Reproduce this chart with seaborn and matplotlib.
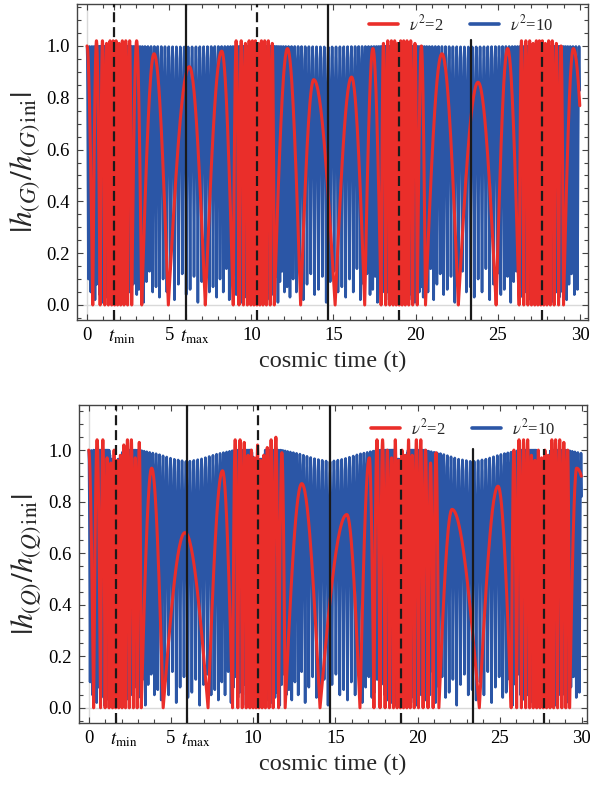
import numpy as np
import pandas as pd
import matplotlib
matplotlib.use("Agg")
import matplotlib.pyplot as plt
import matplotlib.transforms as mtransforms
from matplotlib.ticker import FixedLocator, MultipleLocator
import seaborn as sns

sns.set_theme(style="ticks")
plt.rcParams["font.family"] = ["Liberation Serif", "DejaVu Serif"]
plt.rcParams["mathtext.fontset"] = "stix"

RED = "#EA2E2A"
BLUE = "#2B56A6"

# ---------------- data ----------------
T_MIN = [1.66, 10.32, 18.99, 27.67]
T_MAX = [6.0, 14.67, 23.35]
x_ticks = [0, 1.66, 5, 6.0, 10, 15, 20, 25, 30]
x_ticklabels = ["0", r"$t_{\rm min}$", "5", r"$t_{\rm max}$", "10", "15", "20", "25", "30"]

# red (nu^2 = 2), top panel: arc nodes (zeros), peak times (nan = middle), peak values
red_top_nodes = [-0.35, 0.35, 0.8, 1.08, 1.3, 1.5, 1.68, 1.86, 2.05, 2.25, 2.47, 2.72,
                 3.33, 4.95, 7.2,
                 8.9, 9.25, 9.52, 9.76, 9.97, 10.16, 10.34, 10.52, 10.71, 10.92, 11.15,
                 11.4, 13.0, 15.1, 16.9,
                 17.9, 18.18, 18.42, 18.63, 18.82, 19.0, 19.18, 19.37, 19.58, 19.82, 20.1,
                 20.6, 22.6, 24.9,
                 26.3, 26.58, 26.83, 27.05, 27.25, 27.44, 27.62, 27.8, 27.99, 28.2, 28.43, 28.7,
                 29.0, 30.5]
red_top_peak_t = [0.0] + [np.nan] * 10 + [3.02, 4.08, 6.23, 8.2] + [np.nan] * 11 + \
                 [12.2, 13.8, 16.1, 17.4] + [np.nan] * 11 + [21.6, 23.8, 25.6] + [np.nan] * 12 + [29.6]
red_top_peak_v = [1.0] + [1.02, 1.02, 1.01, 1.02, 1.02, 1.02, 1.01, 1.02, 1.02, 1.02] + [1.02, 0.97, 0.92, 0.98] + \
                 [1.02, 1.02, 1.01, 1.02, 1.02, 1.02, 1.01, 1.02, 1.02, 1.02, 1.01] + [0.99, 0.87, 0.88, 0.99] + \
                 [1.01, 1.02, 1.02, 1.02, 1.01, 1.02, 1.02, 1.02, 1.02, 1.01, 1.0] + [0.97, 0.86, 0.99] + \
                 [1.02, 1.02, 1.02, 1.01, 1.02, 1.02, 1.02, 1.01, 1.02, 1.02, 1.01, 1.0] + [0.99]

# red (nu^2 = 2), bottom panel
red_bot_nodes = [-0.3, 0.3, 0.72, 1.0, 1.24, 1.45, 1.64, 1.83, 2.03, 2.24, 2.47, 2.72, 2.95,
                 3.2, 4.53, 7.26,
                 8.75, 9.07, 9.34, 9.58, 9.8, 10.0, 10.18, 10.36, 10.55, 10.75, 10.97, 11.22, 11.55,
                 11.95, 14.07, 16.5,
                 17.35, 17.72, 18.03, 18.3, 18.54, 18.76, 18.96, 19.15, 19.35, 19.56, 19.8, 20.06, 20.34,
                 20.64, 20.95,
                 21.3, 23.76,
                 25.7, 26.03, 26.32, 26.58, 26.82, 27.04, 27.25, 27.45, 27.65, 27.85, 28.06, 28.28, 28.52,
                 28.78, 29.02,
                 29.25, 31.4]
red_bot_peak_t = [0.0] + [np.nan] * 12 + [3.83, 5.86, 8.14] + [np.nan] * 13 + [12.96, 15.7, 17.07] + \
                 [np.nan] * 15 + [22.1, 24.9] + [np.nan] * 15 + [29.68]
red_bot_peak_v = [1.0] + [1.04, 1.04, 0.97, 0.95, 1.0, 0.96, 0.98, 1.02, 1.04, 1.04, 0.97, 1.03] + \
                 [0.93, 0.68, 0.92] + \
                 [1.04, 1.04, 1.03, 0.98, 1.0, 0.97, 1.02, 0.96, 0.98, 1.01, 1.04, 1.05, 0.99] + \
                 [0.87, 0.75, 0.97] + \
                 [1.04, 1.04, 1.0, 0.97, 1.04, 0.96, 1.0, 0.98, 1.04, 0.98, 1.04, 1.04, 1.0, 0.95, 0.99] + \
                 [0.77, 0.86] + \
                 [1.0, 1.04, 1.04, 1.04, 0.98, 0.96, 1.0, 0.97, 1.0, 0.98, 1.04, 1.04, 1.04, 1.03, 1.0] + [0.93]

# blue (nu^2 = 10): local arc width vs. distance from the nearest t_min
blue_dist = [0.0, 0.8, 1.3, 2.0, 3.0, 4.34]
blue_width_top = [0.03, 0.06, 0.12, 0.19, 0.23, 0.24]
blue_width_bot = [0.03, 0.06, 0.12, 0.19, 0.23, 0.24]
# peak envelope vs. distance from nearest t_min
blue_env_dist = [0.0, 0.05, 0.1, 0.33, 0.42, 1.4, 2.5, 3.5, 4.34]
blue_env_top = [0.998, 0.998, 0.998, 0.998, 0.998, 0.998, 0.998, 0.997, 0.996]
blue_env_bot = [0.79, 0.9, 0.965, 0.965, 1.0, 1.0, 0.985, 0.965, 0.955]
# trough depths seen along the bottom edge (repeating)
blue_troughs = [0.03, 0.1, 0.05, 0.14, 0.02, 0.08, 0.12, 0.04, 0.06, 0.11, 0.01, 0.09, 0.13, 0.05, 0.07]


# ---------------- helpers ----------------
def arcs(nodes, peak_t, peak_v, n=30):
    ts, ys = [], []
    for i in range(len(nodes) - 1):
        a, b = nodes[i], nodes[i + 1]
        p = peak_t[i] if not np.isnan(peak_t[i]) else 0.5 * (a + b)
        t1 = np.linspace(a, p, n, endpoint=False)
        t2 = np.linspace(p, b, n, endpoint=False)
        ts += [t1, t2]
        ys += [peak_v[i] * np.sin(0.5 * np.pi * (t1 - a) / (p - a)),
               peak_v[i] * np.cos(0.5 * np.pi * (t2 - p) / (b - p))]
    t = np.concatenate(ts)
    y = np.concatenate(ys)
    m = (t >= 0) & (t <= 30)
    return t[m], y[m]


def dist_tmin(t):
    return np.min(np.abs(np.array(T_MIN + [T_MIN[0] - 8.67]) - t))


def blue_curve(widths, env):
    t = -np.interp(dist_tmin(0), blue_dist, widths) / 2
    ts, ys = [], []
    k = 0
    frac = np.linspace(0, 1, 11)[:-1]
    while t < 30.4:
        w = np.interp(dist_tmin(t), blue_dist, widths)
        e = np.interp(dist_tmin(t + w / 2), blue_env_dist, env)
        d0 = blue_troughs[k % len(blue_troughs)]
        d1 = blue_troughs[(k + 1) % len(blue_troughs)]
        tt = t + w * frac
        s = np.sin(np.pi * frac)
        base = np.where(frac < 0.5, d0, d1)
        ts.append(tt)
        ys.append(base + (e - base) * s)
        t += w
        k += 1
    t = np.concatenate(ts)
    y = np.concatenate(ys)
    m = (t >= 0) & (t <= 30)
    return t[m], y[m]


LAB_R = r"$\nu^2$=2"
LAB_B = r"$\nu^2$=10"

panels = [
    dict(red=(red_top_nodes, red_top_peak_t, red_top_peak_v), bw=blue_width_top, be=blue_env_top,
         rect=[77 / 590, 1 - 320 / 789, 511 / 590, 316 / 789], xlim=(-0.609, 30.49), ylim=(-0.058, 1.162),
         ylabel=r"$|h_{(G)}/h_{(G)\,\mathrm{ini}}|$", vtop=1.023, leg=(553, 14)),
    dict(red=(red_bot_nodes, red_bot_peak_t, red_bot_peak_v), bw=blue_width_bot, be=blue_env_bot,
         rect=[79 / 590, 1 - 723 / 789, 508 / 590, 318 / 789], xlim=(-0.59, 30.31), ylim=(-0.059, 1.175),
         ylabel=r"$|h_{(Q)}/h_{(Q)\,\mathrm{ini}}|$", vtop=1.005, leg=(555, 418)),
]

fig = plt.figure(figsize=(5.90, 7.89), dpi=100)
for P in panels:
    ax = fig.add_axes(P["rect"])
    tr, yr = arcs(*P["red"])
    tb, yb = blue_curve(P["bw"], P["be"])
    df_r = pd.DataFrame({"t": tr, "h": yr})
    df_b = pd.DataFrame({"t": tb, "h": yb})
    ax.axhline(0, color="#d9d9d9", lw=1.0, zorder=0)
    ax.axvline(0, color="#d9d9d9", lw=1.0, zorder=0)
    sns.lineplot(data=df_b, x="t", y="h", color=BLUE, lw=1.9, ax=ax,
                 estimator=None, sort=False, label=LAB_B, zorder=2)
    sns.lineplot(data=df_r, x="t", y="h", color=RED, lw=2.2, ax=ax,
                 estimator=None, sort=False, label=LAB_R, zorder=3)
    ylo, yhi = P["ylim"]
    for tm in T_MIN:
        top = 1.0 if tm < 15 else (P["vtop"] - ylo) / (yhi - ylo)
        ax.axvline(tm, ymax=top, color="#1a1a1a", lw=1.6, ls=(0, (4.5, 2.2)), zorder=5)
    for tm in T_MAX:
        top = 1.0 if tm < 20 else (P["vtop"] - ylo) / (yhi - ylo)
        ax.axvline(tm, ymax=top, color="#1a1a1a", lw=1.6, zorder=5)
    ax.set_xlim(*P["xlim"])
    ax.set_ylim(*P["ylim"])
    ax.xaxis.set_major_locator(FixedLocator(x_ticks))
    ax.set_xticklabels(x_ticklabels)
    ax.xaxis.set_minor_locator(MultipleLocator(1))
    ax.yaxis.set_major_locator(FixedLocator([0, 0.2, 0.4, 0.6, 0.8, 1.0]))
    ax.yaxis.set_minor_locator(MultipleLocator(0.05))
    ax.set_yticklabels(["0.0", "0.2", "0.4", "0.6", "0.8", "1.0"])
    ax.tick_params(which="both", direction="in", top=True, right=True, colors="#444444",
                   labelcolor="black", labelsize=13.5, width=0.8)
    ax.tick_params(which="major", length=4.3, pad=5)
    ax.tick_params(which="minor", length=2.6)
    for lab, tv in zip(ax.get_xticklabels(), x_ticks):
        if tv in (1.66, 6.0):
            lab.set_horizontalalignment("left")
            lab.set_transform(lab.get_transform() +
                              mtransforms.ScaledTranslation(-6 / 100, 0, fig.dpi_scale_trans))
    for s in ax.spines.values():
        s.set_color("#444444")
        s.set_linewidth(1.0)
    ax.set_xlabel("cosmic time (t)", fontsize=17.5, labelpad=4)
    ax.set_ylabel(P["ylabel"], fontsize=22.5, labelpad=3)
    h, l = ax.get_legend_handles_labels()
    order = [l.index(LAB_R), l.index(LAB_B)]
    lx, ly = P["leg"]
    leg = ax.legend([h[i] for i in order], [l[i] for i in order], loc="upper right", ncol=2,
                    fontsize=12, frameon=False, handlelength=1.75, handletextpad=0.65,
                    columnspacing=1.6, borderaxespad=0.0, borderpad=0.0,
                    bbox_to_anchor=(lx / 590, 1 - ly / 789), bbox_transform=fig.transFigure)
    leg.set_zorder(6)
    for lh in leg.get_lines():
        lh.set_linewidth(2.6)

fig.savefig("out.png", dpi=100)
